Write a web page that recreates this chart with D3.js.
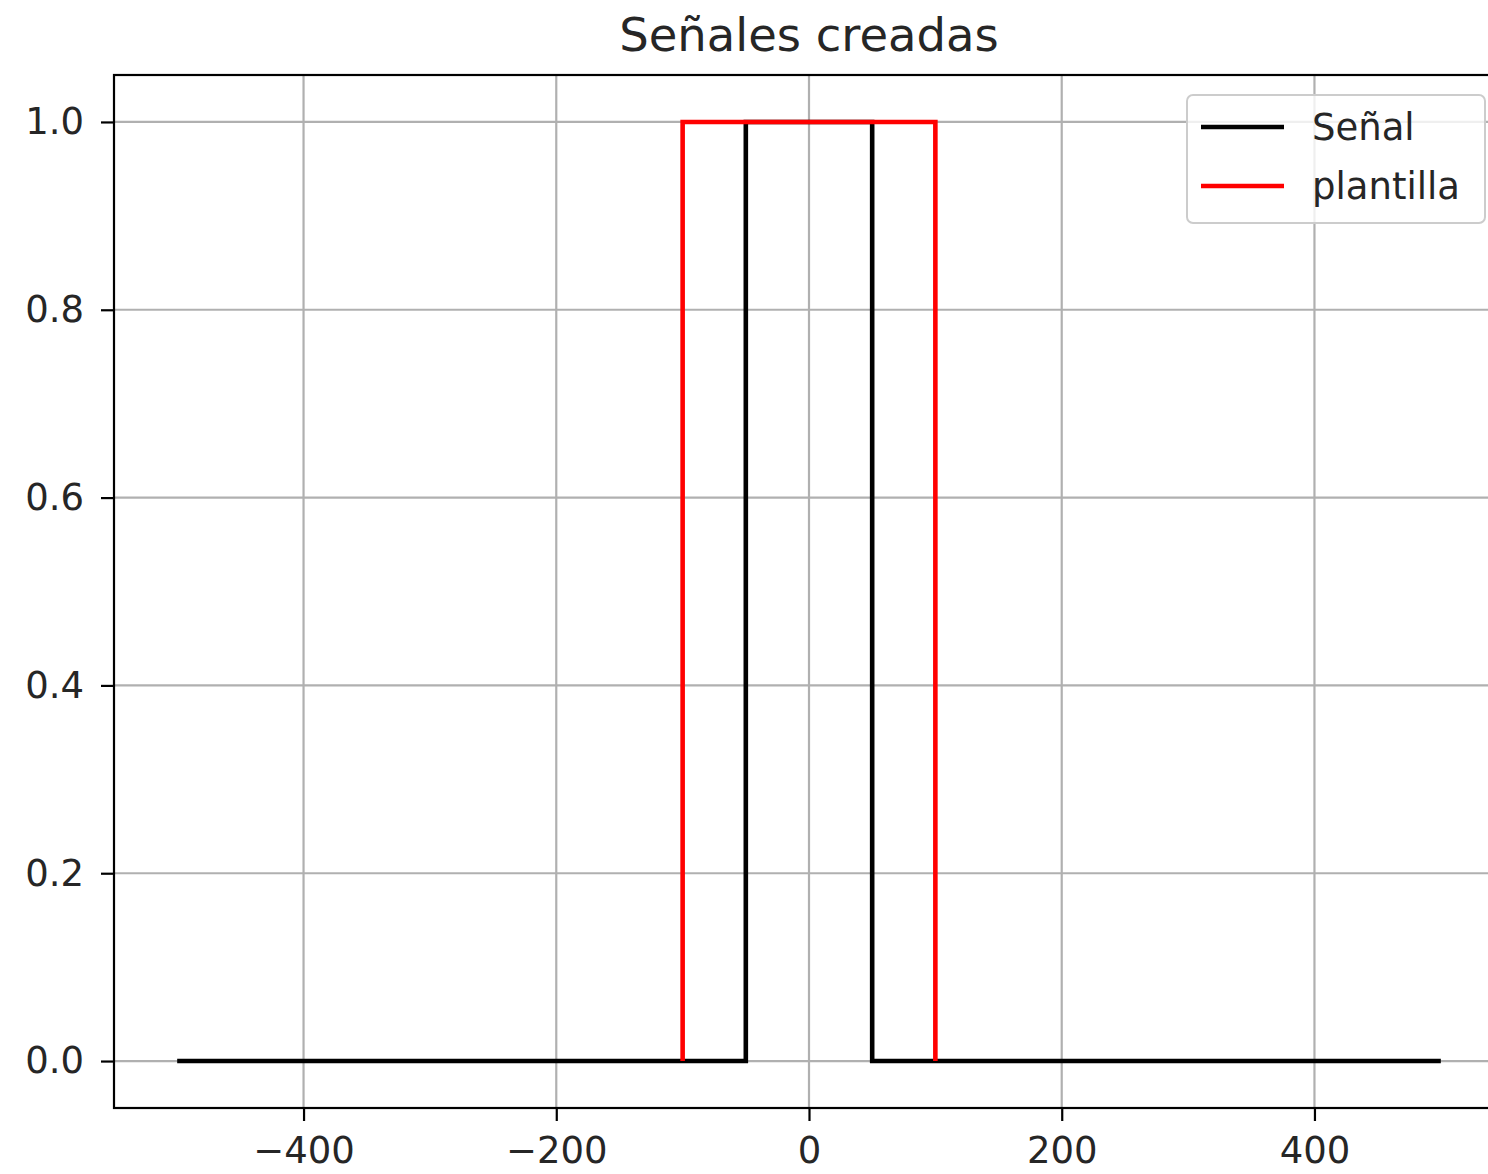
<!DOCTYPE html>
<html>
<head>
<meta charset="utf-8">
<script src="https://cdn.jsdelivr.net/npm/d3@7"></script>
<style>
  body { margin: 0; background: #fff; overflow: hidden; }
  svg { display: block; font-family: 'DejaVu Sans', sans-serif; }
</style>
</head>
<body>
<div class="chart"></div>
<script>
// data
const signalX = [-500, -50, -50, 50, 50, 500]
const signalY = [0, 0, 1, 1, 0, 0]
const templateX = [-100, -100, 100, 100]
const templateY = [0, 1, 1, 0]
const xTicks = [-400, -200, 0, 200, 400]
const yTicks = [0, 0.2, 0.4, 0.6, 0.8, 1.0]
const seriesNames = ['Señal', 'plantilla']
const seriesColours = ['#000000', '#ff0000']
const titleText = 'Señales creadas'

const fullWidth = 1488, fullHeight = 1174
const margin = { top: 75, left: 114 }
const width = 1390, height = 1033

const svg = d3.select('.chart').append('svg')
    .attr('width', fullWidth)
    .attr('height', fullHeight)

const g = svg.append('g')
    .attr('transform', `translate(${margin.left}, ${margin.top})`)

const xScale = d3.scaleLinear().domain([-550, 550]).range([0, width])
const yScale = d3.scaleLinear().domain([-0.05, 1.05]).range([height, 0])

// grid
g.append('g').selectAll('line')
    .data(xTicks)
    .enter().append('line')
    .attr('x1', d => xScale(d)).attr('x2', d => xScale(d))
    .attr('y1', 0).attr('y2', height)
    .style('stroke', '#b0b0b0').style('stroke-width', 2.2)
g.append('g').selectAll('line')
    .data(yTicks)
    .enter().append('line')
    .attr('y1', d => yScale(d)).attr('y2', d => yScale(d))
    .attr('x1', 0).attr('x2', width)
    .style('stroke', '#b0b0b0').style('stroke-width', 2.2)

// series
const line = d3.line().x(d => xScale(d[0])).y(d => yScale(d[1]))
const series = [
    d3.zip(signalX, signalY),
    d3.zip(templateX, templateY)
]
series.forEach((pts, i) => {
    g.append('path')
        .datum(pts)
        .attr('d', line)
        .style('fill', 'none')
        .style('stroke', seriesColours[i])
        .style('stroke-width', 4.6)
        .style('stroke-linejoin', 'miter')
        .style('stroke-linecap', 'butt')
})

// axes
const fmtX = d => d < 0 ? '\u2212' + Math.abs(d) : String(d)
const xAxis = d3.axisBottom(xScale).tickValues(xTicks).tickFormat(fmtX).tickSize(13).tickPadding(16)
const yAxis = d3.axisLeft(yScale).tickValues(yTicks).tickFormat(d3.format('.1f')).tickSize(13).tickPadding(17)

const gX = g.append('g').attr('transform', `translate(0, ${height})`).call(xAxis)
const gY = g.append('g').call(yAxis)
;[gX, gY].forEach(ax => {
    ax.select('.domain').remove()
    ax.selectAll('.tick line').style('stroke', '#000').style('stroke-width', 2.2)
    ax.selectAll('.tick text').style('fill', '#262626').style('font-size', '37px')
        .style('font-family', 'DejaVu Sans')
})

// spines
g.append('rect')
    .attr('width', width)
    .attr('height', height)
    .style('fill', 'none')
    .style('stroke', '#000')
    .style('stroke-width', 2.2)

// title
svg.append('text')
    .attr('x', margin.left + width / 2)
    .attr('y', 51)
    .attr('text-anchor', 'middle')
    .style('font-size', '46.5px')
    .style('fill', '#262626')
    .text(titleText)

// legend
const legend = g.append('g').attr('transform', `translate(${width - 19 - 298}, 20)`)
legend.append('rect')
    .attr('width', 298).attr('height', 128)
    .attr('rx', 6)
    .style('fill', '#fff').style('fill-opacity', 0.8)
    .style('stroke', '#cccccc').style('stroke-width', 2)
seriesNames.forEach((name, i) => {
    let y = 32 + i * 59
    legend.append('line')
        .attr('x1', 14).attr('x2', 97)
        .attr('y1', y).attr('y2', y)
        .style('stroke', seriesColours[i]).style('stroke-width', 4.6)
    legend.append('text')
        .attr('x', 125).attr('y', y + 13)
        .style('font-size', '37px')
        .style('fill', '#262626')
        .text(name)
})
</script>
</body>
</html>
